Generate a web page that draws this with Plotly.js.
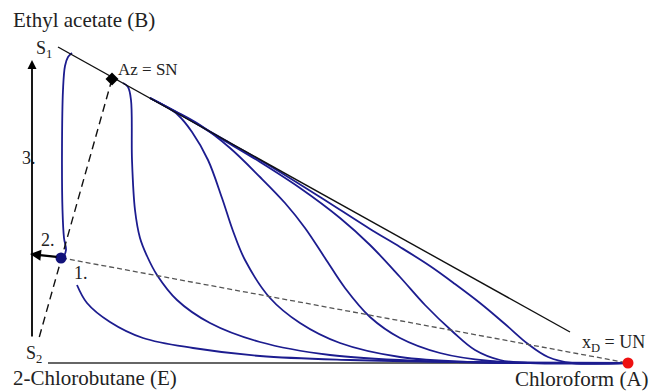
<!DOCTYPE html>
<html>
<head>
<meta charset="utf-8">
<script src="https://cdn.plot.ly/plotly-3.0.1.min.js"></script>
<style>html,body{margin:0;padding:0;background:#fff;}#chart{width:650px;height:391px;}</style>
</head>
<body>
<div id="chart"></div>
<script>
// Positions (x to the right, y downward)
// Residue curves
const curve1X = [72, 68, 65, 63, 62, 62.5, 64, 66, 64];
const curve1Y = [53, 57, 66, 90, 150, 210, 238, 250, 256];

const curve2X = [123, 128, 131, 132, 135, 140, 147, 157, 177, 210, 260, 330, 420, 520, 628];
const curve2Y = [83, 87, 100, 160, 210, 238, 256, 275, 300, 323, 342, 355, 361, 363, 363];

const curve3X = [150, 165, 178, 192, 208, 222, 233, 245, 270, 300, 340, 400, 470, 628];
const curve3Y = [98, 106, 115, 132, 160, 198, 231, 260, 298, 323, 343, 357, 362, 363];

const curve4X = [150, 175, 200, 230, 260, 285, 305, 325, 345, 370, 400, 440, 490, 550, 628];
const curve4Y = [98, 111, 125, 148, 177, 203, 228, 258, 288, 317, 338, 353, 361, 363, 363];

const curve5X = [150, 185, 220, 260, 300, 340, 370, 400, 425, 452, 475, 500, 530, 628];
const curve5Y = [98, 117, 138, 162, 188, 218, 245, 277, 305, 331, 350, 360, 363, 363];

const curve6X = [150, 190, 230, 270, 320, 370, 400, 430, 455, 480, 505, 528, 548, 572, 628];
const curve6Y = [98, 120, 143, 166, 197, 229, 247, 266, 284, 303, 324, 344, 357, 363, 363];

const curve7X = [77, 87, 110, 143, 193, 260, 350, 450, 628];
const curve7Y = [285, 303, 322, 338, 348, 356, 360, 362, 363];

// Boundary lines
const edgeBAX = [58, 570];
const edgeBAY = [47, 332];
const edgeEAX = [48, 628];
const edgeEAY = [363, 363];

// Dashed lines
const sepX = [112, 39];
const sepY = [79, 338];
const balX = [62, 628];
const balY = [258, 363];

// Singular points
const azX = [112], azY = [79];
const feedX = [61], feedY = [258];
const unX = [628], unY = [363];

// Labels
const labelText = ["Ethyl acetate (B)", "S<sub>1</sub>", "Az = SN", "3.", "2.", "1.", "S<sub>2</sub>",
                   "2-Chlorobutane (E)", "Chloroform (A)", "x<sub>D</sub> = UN"];
const labelX = [11, 34, 116, 20, 39, 72, 24, 11, 513, 580];
const labelY = [20, 49, 69, 158, 240, 273, 354, 378, 379, 343];
const labelSize = [21, 18, 17, 18, 18, 18, 18, 21, 21, 18];

const blue = "#1c1c8f";
function curve(x, y) {
  return {x: x, y: y, type: "scatter", mode: "lines",
          line: {color: blue, width: 1.8, shape: "spline", smoothing: 1},
          hoverinfo: "skip", showlegend: false};
}
const traces = [
  {x: edgeEAX, y: edgeEAY, type: "scatter", mode: "lines", line: {color: "#333", width: 1.4}, showlegend: false},
  curve(curve1X, curve1Y), curve(curve2X, curve2Y), curve(curve3X, curve3Y),
  curve(curve4X, curve4Y), curve(curve5X, curve5Y), curve(curve6X, curve6Y), curve(curve7X, curve7Y),
  {x: edgeBAX, y: edgeBAY, type: "scatter", mode: "lines", line: {color: "#111", width: 1.4}, showlegend: false},
  {x: sepX, y: sepY, type: "scatter", mode: "lines", line: {color: "#111", width: 1.4, dash: "8px,5px"}, showlegend: false},
  {x: balX, y: balY, type: "scatter", mode: "lines", line: {color: "#555", width: 1.3, dash: "5px,3px"}, showlegend: false},
  {x: azX, y: azY, type: "scatter", mode: "markers", marker: {symbol: "diamond", size: 10, color: "#000"}, showlegend: false},
  {x: feedX, y: feedY, type: "scatter", mode: "markers", marker: {size: 11, color: "#12127a"}, showlegend: false},
  {x: unX, y: unY, type: "scatter", mode: "markers", marker: {size: 11, color: "#ee1111"}, showlegend: false}
];

const annotations = labelText.map((t, i) => ({
  x: labelX[i], y: labelY[i], xref: "x", yref: "y", text: t, showarrow: false,
  xanchor: "left", yanchor: "middle",
  font: {family: "Liberation Serif", size: labelSize[i], color: "#222"}
}));
// Arrows 3. (vertical) and 2. (horizontal)
annotations.push({x: 32, y: 60, ax: 32, ay: 338, xref: "x", yref: "y", axref: "x", ayref: "y",
  text: "", showarrow: true, arrowhead: 2, arrowsize: 1, arrowwidth: 1.8, arrowcolor: "#000"});
annotations.push({x: 30, y: 254, ax: 58, ay: 257, xref: "x", yref: "y", axref: "x", ayref: "y",
  text: "", showarrow: true, arrowhead: 2, arrowsize: 1, arrowwidth: 2.2, arrowcolor: "#000"});

const layout = {
  width: 650, height: 391,
  margin: {l: 0, r: 0, t: 0, b: 0},
  paper_bgcolor: "#fff", plot_bgcolor: "#fff",
  xaxis: {range: [0, 650], visible: false, fixedrange: true},
  yaxis: {range: [391, 0], visible: false, fixedrange: true},
  annotations: annotations,
  showlegend: false
};
Plotly.newPlot("chart", traces, layout, {staticPlot: true, displayModeBar: false});
</script>
</body>
</html>
